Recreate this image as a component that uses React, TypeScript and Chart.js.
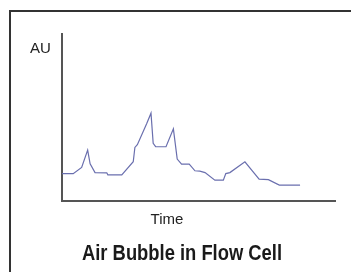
import React, { useEffect, useRef } from "react";
import { Chart, registerables } from "chart.js";

Chart.register(...registerables);

// Time (arbitrary units, 0-100 across the axis)
const times: number[] = [
  0, 4.1, 7.2, 9.4, 10.3, 12.1, 16.4, 16.8, 21.9, 26.1, 26.7, 27.6, 31.0, 32.6,
  33.4, 34.3, 38.1, 40.8, 42.2, 43.8, 46.6, 48.7, 50.5, 52.4, 56.0, 59.1, 60.0,
  61.5, 67.0, 72.2, 75.6, 79.6, 87.2,
];
// Absorbance (AU, arbitrary 0-100)
const absorbance: number[] = [
  16.4, 16.4, 20.1, 30.5, 22.3, 17.0, 16.9, 15.7, 15.7, 23.5, 32.1, 33.7, 46.2,
  52.6, 34.5, 32.5, 32.5, 43.2, 25.1, 22.1, 22.1, 18.1, 17.9, 17.0, 12.5, 12.5,
  16.4, 17.0, 23.5, 13.1, 12.8, 9.5, 9.5,
];

const xLabel = "Time";
const yLabel = "AU";
const chartTitle = "Air Bubble in Flow Cell";

const SANS = "'Liberation Sans', Arial, Helvetica, sans-serif";

const labelsPlugin = {
  id: "labelsPlugin",
  afterDraw(chart: any) {
    const { ctx, chartArea } = chart;
    ctx.save();
    ctx.fillStyle = "#222";
    ctx.textBaseline = "alphabetic";
    // y label (horizontal, top-left of the axis)
    ctx.font = `15px ${SANS}`;
    ctx.textAlign = "left";
    ctx.fillText(yLabel, chartArea.left - 32, chartArea.top + 19);
    // x label
    ctx.textAlign = "center";
    ctx.fillText(xLabel, chartArea.left + 105, chartArea.bottom + 23);
    // condensed bold title
    ctx.font = `bold 22px ${SANS}`;
    ctx.fillStyle = "#1a1a1a";
    const w = ctx.measureText(chartTitle).width;
    const target = 200;
    const sx = target / w;
    ctx.translate(chartArea.left + 120, chartArea.bottom + 59);
    ctx.scale(sx, 1);
    ctx.textAlign = "center";
    ctx.fillText(chartTitle, 0, 0);
    ctx.restore();
  },
};

export default function App() {
  const ref = useRef<HTMLCanvasElement | null>(null);

  useEffect(() => {
    document.body.style.margin = "0";
    const canvas = ref.current;
    if (!canvas) return;
    const chart = new Chart(canvas, {
      type: "line",
      data: {
        datasets: [
          {
            data: times.map((t, i) => ({ x: t, y: absorbance[i] })),
            borderColor: "#6a6fae",
            borderWidth: 1.2,
            pointRadius: 0,
            tension: 0,
            fill: false,
          },
        ],
      },
      options: {
        responsive: false,
        animation: false,
        layout: { padding: { left: 62, top: 34, right: 16, bottom: 71 } },
        scales: {
          x: {
            type: "linear",
            min: 0,
            max: 100,
            grid: { display: false, drawTicks: false },
            ticks: { display: false },
            border: { display: true, color: "#555", width: 2 },
          },
          y: {
            min: 0,
            max: 100,
            grid: { display: false, drawTicks: false },
            ticks: { display: false },
            border: { display: true, color: "#555", width: 2 },
          },
        },
        plugins: {
          legend: { display: false },
          tooltip: { enabled: false },
          title: { display: false },
        },
      },
      plugins: [labelsPlugin],
    });
    return () => chart.destroy();
  }, []);

  return (
    <div style={{ position: "relative", width: 351, height: 272, overflow: "hidden", background: "#fff" }}>
      <div
        style={{
          position: "absolute",
          left: 9,
          top: 10,
          width: 400,
          height: 400,
          borderTop: "2px solid #333",
          borderLeft: "2px solid #333",
        }}
      />
      <canvas ref={ref} width={351} height={272} style={{ position: "absolute", left: 0, top: 0, display: "block" }} />
    </div>
  );
}
